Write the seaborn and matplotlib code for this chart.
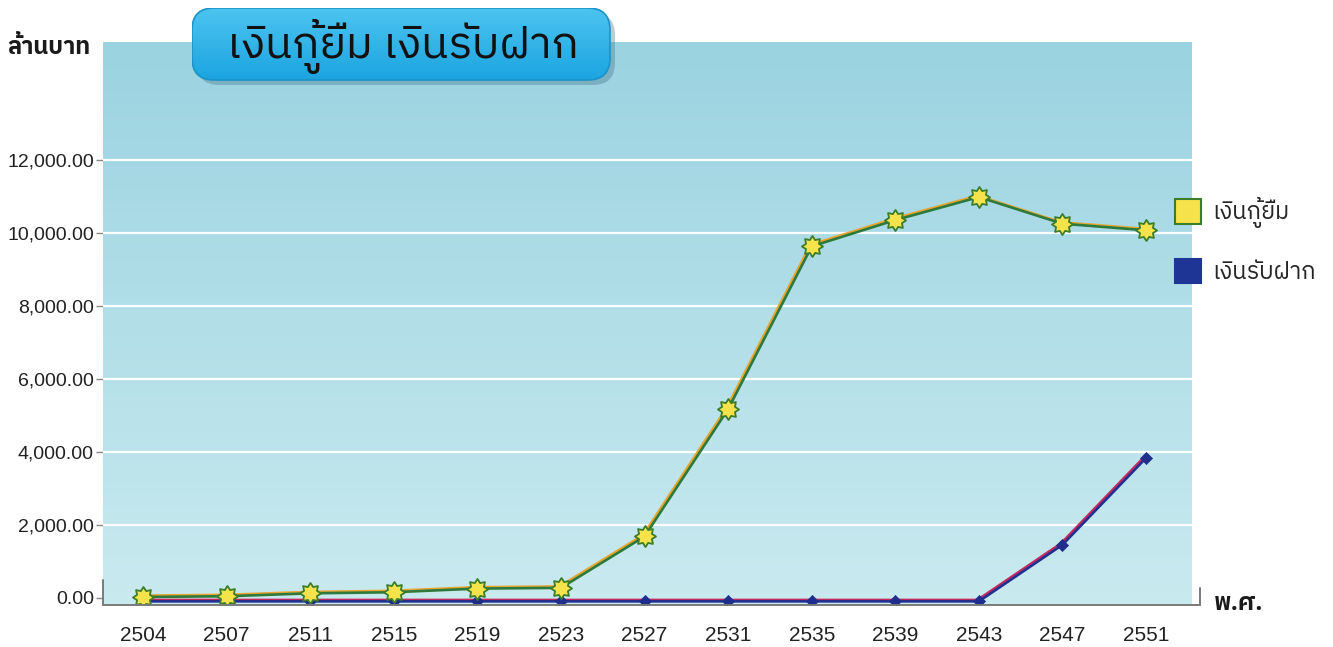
import numpy as np
import pandas as pd
import matplotlib
matplotlib.use("Agg")
import matplotlib.pyplot as plt
import matplotlib.patheffects as pe
from matplotlib.patches import FancyBboxPatch, Patch
from matplotlib.lines import Line2D
from matplotlib.path import Path
from matplotlib import font_manager as fm
from matplotlib.ft2font import FT2Font
import seaborn as sns

# ---------------- data ----------------
years = ['2504', '2507', '2511', '2515', '2519', '2523', '2527',
         '2531', '2535', '2539', '2543', '2547', '2551']
loans = [20, 40, 120, 150, 250, 270, 1680, 5170, 9630, 10350, 10980, 10250, 10070]
deposits = [-100, -100, -100, -100, -100, -100, -100, -100, -100, -100, -100, 1450, 3830]
yticks = [0, 2000, 4000, 6000, 8000, 10000, 12000]
title = 'เงินกู้ยืม เงินรับฝาก'
series_names = ['เงินกู้ยืม', 'เงินรับฝาก']
ylabel = 'ล้านบาท'
xlabel = 'พ.ศ.'

# ---------------- fonts ----------------
sns.set_theme(style="white")


def find_thai_font():
    preferred = []
    others = []
    seen = set()
    for f in fm.fontManager.ttflist:
        if f.name in seen:
            continue
        try:
            cm = FT2Font(f.fname).get_charmap()
        except Exception:
            continue
        if 0x0E07 in cm and 0x0E01 in cm:
            seen.add(f.name)
            if 'thai' in f.name.lower() or 'sans' in f.name.lower():
                preferred.append(f.name)
            else:
                others.append(f.name)
    allf = preferred + others
    return allf[0] if allf else 'DejaVu Sans'


THAI = find_thai_font()
plt.rcParams['font.family'] = [THAI, 'DejaVu Sans']
NUMFONT = ['Liberation Sans', 'DejaVu Sans']

df = pd.DataFrame({'idx': np.arange(len(years)), 'year': years,
                   'loans': loans, 'deposits': deposits})

W, H = 1333, 647
fig = plt.figure(figsize=(W / 100, H / 100), dpi=100)
fig.patch.set_facecolor('white')

ax = fig.add_axes([103 / W, 1 - 605 / H, (1192 - 103) / W, (605 - 42) / H])
ax.set_xlim(-0.48, 12.55)
ax.set_ylim(-200, 15230)

# background gradient
grad = np.linspace(0, 1, 256).reshape(-1, 1)
top = np.array([0x9b, 0xd3, 0xe1]) / 255
bot = np.array([0xc9, 0xea, 0xef]) / 255
img = top[None, None, :] * (1 - grad[:, :, None]) + bot[None, None, :] * grad[:, :, None]
ax.imshow(img, extent=[0, 1, 0, 1], transform=ax.transAxes, aspect='auto', zorder=0)

# grid
for v in yticks[1:]:
    ax.axhline(v, color='white', lw=1.6, zorder=1)

for s in ax.spines.values():
    s.set_visible(False)

# star marker with short rays (8 points)
ang = np.linspace(0, 2 * np.pi, 17)[:-1] + np.pi / 2
rad = np.where(np.arange(16) % 2 == 0, 1.0, 0.66)
verts = np.column_stack([rad * np.cos(ang), rad * np.sin(ang)])
verts = np.vstack([verts, verts[:1]])
star = Path(verts, closed=True)

# lines
loan_eff = [pe.SimpleLineShadow(offset=(-1.0, 1.0), shadow_color='#e7a532', alpha=1, rho=1), pe.Normal()]
dep_eff = [pe.SimpleLineShadow(offset=(-1.0, 1.0), shadow_color='#c42a5e', alpha=1, rho=1), pe.Normal()]
sns.lineplot(data=df, x='idx', y='loans', ax=ax, color='#2d7a3c', lw=1.9, sort=False,
             zorder=3, path_effects=loan_eff)
sns.lineplot(data=df, x='idx', y='deposits', ax=ax, color='#23308f', lw=1.9, sort=False,
             zorder=3, path_effects=dep_eff)
sns.scatterplot(data=df, x='idx', y='deposits', ax=ax, marker='D', s=38, color='#1f2d8c',
                edgecolor='#1f2d8c', linewidth=0.5, zorder=4)
sns.scatterplot(data=df, x='idx', y='loans', ax=ax, marker=star, s=230, color='#f6e24a',
                edgecolor='#3b7d2a', linewidth=1.3, zorder=5)

ax.set_xlabel('')
ax.set_ylabel('')
ax.set_xticks(df['idx'])
ax.set_xticklabels(years, family=NUMFONT, fontsize=15, color='#222222')
ax.set_yticks(yticks)
ax.set_yticklabels([f'{v:,.2f}' for v in yticks], family=NUMFONT, fontsize=14, color='#222222')
ax.tick_params(axis='x', length=0, pad=15)
ax.tick_params(axis='y', length=5, width=1, color='#888888', pad=1.5, left=True)


# baseline axis lines (figure pixel coords)
def fig_line(xs, ys, **kw):
    fig.add_artist(Line2D([x / W for x in xs], [1 - y / H for y in ys], transform=fig.transFigure, **kw))


fig_line([103, 1200], [605, 605], color='#7a7a7a', lw=1.4)
fig_line([103, 103], [580, 605], color='#7a7a7a', lw=1.4)
fig_line([1200, 1200], [588, 605], color='#7a7a7a', lw=1.4)

# axis titles
fig.text(7 / W, 1 - 47 / H, ylabel, fontsize=17, fontweight='bold', ha='left', va='center', color='#1a1a1a')
fig.text(1214 / W, 1 - 604 / H, xlabel, fontsize=17, fontweight='bold', ha='left', va='center', color='#1a1a1a')

# title box (own axes in pixel units)
bx0, by0, bw, bh = 192, 8, 418, 72
tax = fig.add_axes([bx0 / W, 1 - (by0 + bh + 5) / H, (bw + 5) / W, (bh + 5) / H], zorder=6)
tax.set_xlim(0, bw + 5)
tax.set_ylim(0, bh + 5)
tax.axis('off')
shadow = FancyBboxPatch((5, 0), bw, bh, boxstyle='round,pad=0,rounding_size=22',
                        facecolor='#3f6f86', edgecolor='none', alpha=0.35)
tax.add_patch(shadow)
box = FancyBboxPatch((0, 5), bw, bh, boxstyle='round,pad=0,rounding_size=22',
                     facecolor='none', edgecolor='#1a93c9', lw=1.2, zorder=3)
tax.add_patch(box)
g2 = np.linspace(0, 1, 128).reshape(-1, 1)
c_top = np.array([0x4c, 0xc4, 0xf0]) / 255
c_bot = np.array([0x1c, 0xa4, 0xe0]) / 255
gimg = c_top[None, None, :] * (1 - g2[:, :, None]) + c_bot[None, None, :] * g2[:, :, None]
im = tax.imshow(gimg, extent=[0, bw, 5, bh + 5], aspect='auto', zorder=2)
clip = FancyBboxPatch((0, 5), bw, bh, boxstyle='round,pad=0,rounding_size=22',
                      facecolor='none', edgecolor='none', transform=tax.transData)
im.set_clip_path(clip)
tax.text(bw / 2 + 2, 5 + bh / 2 - 2, title, fontsize=32, ha='center', va='center',
         color='#111111', zorder=4)

# legend
handles = [Patch(facecolor='#f6e24a', edgecolor='#3b7d2a', lw=1.5),
           Patch(facecolor='#1f3596', edgecolor='#1f3596', lw=1.5)]
leg = fig.legend(handles, series_names, loc='upper left', bbox_to_anchor=(1166 / W, 1 - 188 / H),
                 frameon=False, fontsize=17, handlelength=1.1, handleheight=1.2, labelspacing=1.3,
                 handletextpad=0.45, borderaxespad=0)

fig.savefig('out.png', dpi=100)
